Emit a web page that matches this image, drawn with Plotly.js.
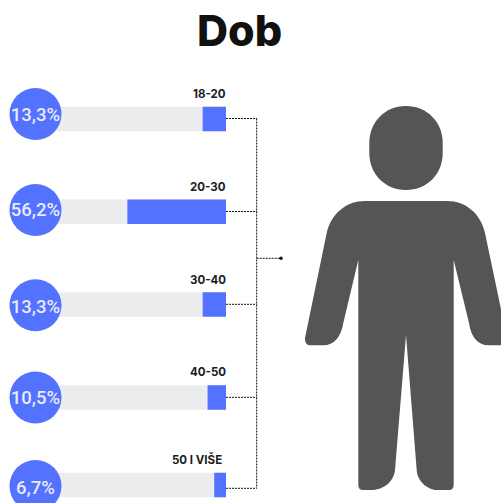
<!DOCTYPE html>
<html>
<head>
<meta charset="utf-8">
<script src="https://cdn.plot.ly/plotly-3.0.1.min.js"></script>
<style>html,body{margin:0;padding:0;background:#fff;overflow:hidden}#c{width:501px;height:503px}</style>
</head>
<body>
<div id="c"></div>
<script>
const categories = ['18-20', '20-30', '30-40', '40-50', '50 I VIŠE'];
const values = [13.3, 56.2, 13.3, 10.5, 6.7];
const totals = [100, 100, 100, 100, 100];
const valueLabels = ['13,3%', '56,2%', '13,3%', '10,5%', '6,7%'];

// layout constants (pixels)
const W = 501, H = 503;
const rowY = [119, 211.7, 304.5, 397.5, 485];
const circleY = [114, 210, 305.3, 397.5, 486];
const textY = [116.5, 211, 308, 399, 489];
const labelY = [94, 187, 280, 372, 459];
const labelX = [227.5, 227.5, 227.5, 227.5, 224];
const lineY = [118.5, 211.5, 304.3, 397.3, 488.3];
const pxPerUnit = 1.755, barRight = 226;

const blue = '#5372ff', grey = '#eaecee', ink = '#555555', dark = '#1c1c1c';
const bodyFont = 'Inter, "Noto Sans", sans-serif';

const traces = [
  {type:'bar', orientation:'h', x:totals, y:rowY, width:24.5, xaxis:'x', yaxis:'y',
   marker:{color:grey, line:{width:0}}, hoverinfo:'skip'},
  {type:'bar', orientation:'h', x:values, y:rowY, width:24.5, xaxis:'x', yaxis:'y',
   marker:{color:blue, line:{width:0}}, hoverinfo:'skip'},
  {type:'scatter', mode:'markers', x:circleY.map(()=>35.5), y:circleY, xaxis:'x2', yaxis:'y',
   marker:{size:52, color:blue, line:{width:0}}, hoverinfo:'skip'},
  {type:'scatter', mode:'text', x:textY.map(()=>35.5), y:textY, xaxis:'x2', yaxis:'y',
   text:valueLabels, textposition:'middle center',
   textfont:{family:'Roboto, sans-serif', size:18.5, color:'#e9ecf8', weight:500}, hoverinfo:'skip'},
  {type:'scatter', mode:'markers', x:[281], y:[258.3], xaxis:'x2', yaxis:'y',
   marker:{size:3.5, color:'#111'}, hoverinfo:'skip'}
];

const personHead = 'M 369.3 143 C 369.3 122 385 106 406 106 C 427 106 442.7 122 442.7 143 L 442.7 153 C 442.7 174 427 190 406 190 C 385 190 369.3 174 369.3 153 Z';
const personBody = 'M 365 201 L 447 201 C 466 201 481 214 485 233 L 507 338 C 507.5 342 505 345.3 502.7 345.3 L 488.7 345.3 C 478 345.3 471 337 469 323 L 453.7 260 L 453.7 485 ' +
  'C 453.7 488 452 490 449.3 490 L 436.7 490 C 428 490 417 481 416.7 470 L 406 335 L 395 470 C 394 481 384 490 371.7 490 L 362.7 490 C 360 490 358.3 488 358.3 485 ' +
  'L 358.3 260 L 343.3 323 C 341 337 334 345.3 323.3 345.3 L 309.3 345.3 C 307 345.3 304.5 342 305 338 L 326.7 233 C 331 214 346 201 365 201 Z';

function dotted(x0,y0,x1,y1){
  return {type:'line', xref:'x2', yref:'y', x0, y0, x1, y1, line:{color:'#111', width:1, dash:'2px,1px'}, layer:'below'};
}
const shapes = [
  {type:'path', xref:'x2', yref:'y', path:personHead, fillcolor:ink, line:{width:0}},
  {type:'path', xref:'x2', yref:'y', path:personBody, fillcolor:ink, line:{width:0}},
  dotted(256.7, lineY[0], 256.7, lineY[4]),
  dotted(256.7, 258.3, 281, 258.3)
].concat(lineY.map(y => dotted(barRight, y, 256.7, y)));

const annotations = categories.map((c,i)=>({
  text:c, xref:'x2', yref:'y', x:labelX[i], y:labelY[i], xanchor:'right', yanchor:'middle', showarrow:false,
  font:{family:bodyFont, size:11.5, color:dark, weight:700}
}));
annotations.push({text:'Dob', xref:'x2', yref:'y', x:239.5, y:30, xanchor:'center', yanchor:'middle', showarrow:false,
  font:{family:bodyFont, size:43, color:'#111111', weight:800}});

const layout = {
  width:W, height:H, margin:{l:0,r:0,t:0,b:0}, paper_bgcolor:'#fff', plot_bgcolor:'#fff',
  barmode:'overlay', showlegend:false,
  xaxis:{range:[barRight/pxPerUnit, -(W-barRight)/pxPerUnit], visible:false, fixedrange:true},
  xaxis2:{range:[0,W], overlaying:'x', visible:false, fixedrange:true},
  yaxis:{range:[H,0], visible:false, fixedrange:true},
  shapes, annotations
};
Plotly.newPlot('c', traces, layout, {displayModeBar:false, staticPlot:true});
</script>
</body>
</html>
